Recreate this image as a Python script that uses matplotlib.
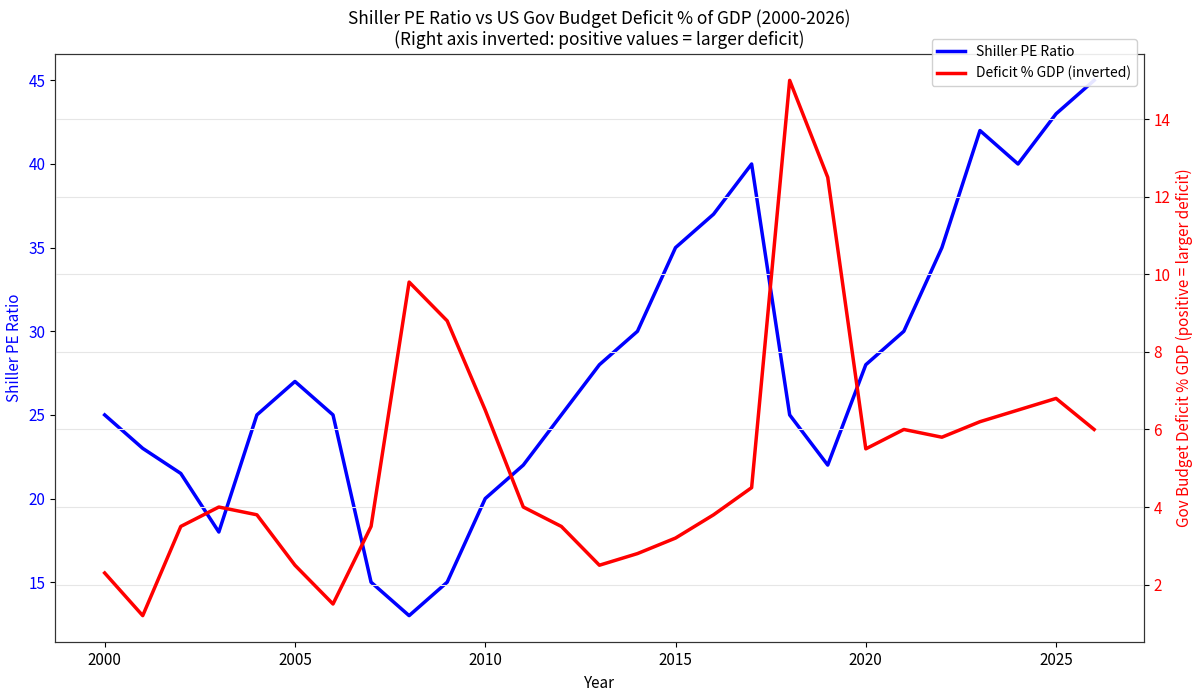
import numpy as np
import matplotlib
matplotlib.use("Agg")
import matplotlib.pyplot as plt

plt.rcParams['font.family'] = ['Noto Sans CJK SC', 'DejaVu Sans']

years = list(range(2000, 2027))
shiller_pe = [25, 23, 21.5, 18, 25, 27, 25, 15, 13, 15, 20, 22, 25, 28, 30,
              35, 37, 40, 25, 22, 28, 30, 35, 42, 40, 43, 45]
deficit_pct = [2.3, 1.2, 3.5, 4.0, 3.8, 2.5, 1.5, 3.5, 9.8, 8.8, 6.5, 4.0, 3.5,
               2.5, 2.8, 3.2, 3.8, 4.5, 15.0, 12.5, 5.5, 6.0, 5.8, 6.2, 6.5,
               6.8, 6.0]

fig, ax1 = plt.subplots(figsize=(12, 6.96), dpi=100)
fig.subplots_adjust(left=0.046, right=0.953, top=0.923, bottom=0.077)

l1, = ax1.plot(years, shiller_pe, color='blue', linewidth=2.5, label='Shiller PE Ratio')
ax1.set_xlabel('Year', fontsize=11)
ax1.set_ylabel('Shiller PE Ratio', color='blue', fontsize=11)
ax1.tick_params(axis='y', labelcolor='blue', labelsize=11)
ax1.tick_params(axis='x', labelsize=11)

ax2 = ax1.twinx()
l2, = ax2.plot(years, deficit_pct, color='red', linewidth=2.5, label='Deficit % GDP (inverted)')
ax2.set_ylabel('Gov Budget Deficit % GDP (positive = larger deficit)', color='red', fontsize=11)
ax2.tick_params(axis='y', labelcolor='red', labelsize=11)
ax2.grid(True, axis='y', color='#e6e6e6', linewidth=0.8)
ax2.set_axisbelow(True)

for ax in (ax1, ax2):
    for sp in ax.spines.values():
        sp.set_color('#333333')

ax1.set_title('Shiller PE Ratio vs US Gov Budget Deficit % of GDP (2000-2026)\n'
              '(Right axis inverted: positive values = larger deficit)', fontsize=12.5)

ax2.legend(handles=[l1, l2], loc='upper right', bbox_to_anchor=(1.0, 1.036),
           fontsize=10, framealpha=0.9)

fig.savefig('out.png')
